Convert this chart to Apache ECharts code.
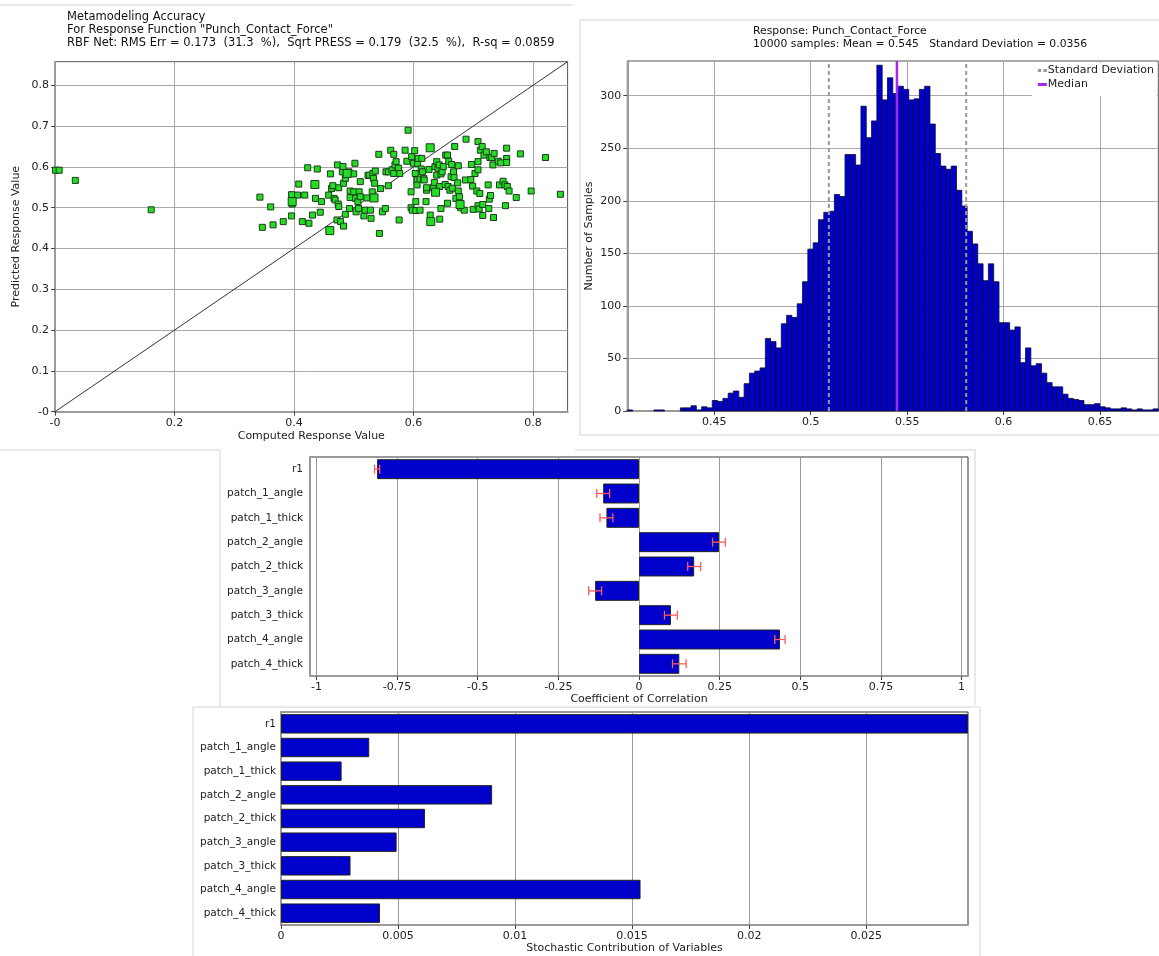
<!DOCTYPE html>
<html><head><meta charset="utf-8">
<script src="https://cdn.jsdelivr.net/npm/echarts@6/dist/echarts.min.js"></script>
<style>html,body{margin:0;padding:0;background:#fff}#c{width:1159px;height:956px}</style>
</head><body><div id="c"></div>
<script>
// ---------------- DATA ----------------
const scatterTitle = 'Metamodeling Accuracy\nFor Response Function "Punch_Contact_Force"\nRBF Net: RMS Err = 0.173  (31.3  %),  Sqrt PRESS = 0.179  (32.5  %),  R-sq = 0.0859';
const scatterPoints = [
[0.001,0.592],[0.007,0.592],[0.034,0.567],[0.161,0.495],[0.343,0.526],[0.347,0.452],[0.361,0.502],[0.365,0.458],[0.382,0.466],[0.396,0.532],[0.397,0.509],[0.396,0.480],[0.406,0.531],[0.408,0.558],
[0.418,0.531],[0.414,0.466],[0.423,0.598],[0.425,0.462],[0.431,0.482],[0.436,0.523],[0.439,0.595],[0.444,0.489],[0.446,0.515],
[0.461,0.583],[0.458,0.531],[0.463,0.547],[0.465,0.554],[0.467,0.523],[0.469,0.519],[0.472,0.470],[0.473,0.605],[0.475,0.549],[0.474,0.509],[0.475,0.503],[0.478,0.466],[0.481,0.588],[0.482,0.601],[0.483,0.455],[0.483,0.560],[0.486,0.572],[0.486,0.484],[0.492,0.588],[0.493,0.498],[0.494,0.541],[0.494,0.525],[0.500,0.583],[0.500,0.539],[0.502,0.609],[0.503,0.523],[0.504,0.490],[0.507,0.515],[0.508,0.498],[0.509,0.539],[0.511,0.564],[0.511,0.527],[0.517,0.480],[0.519,0.494],[0.522,0.524],[0.524,0.579],[0.526,0.580],[0.528,0.494],[0.529,0.474],[0.531,0.539],[0.532,0.584],[0.533,0.572],[0.535,0.560],[0.536,0.590],
[0.542,0.631],[0.543,0.437],[0.545,0.547],[0.548,0.490],[0.553,0.498],[0.554,0.588],[0.558,0.554],[0.558,0.588],[0.562,0.641],[0.564,0.593],[0.567,0.631],[0.567,0.584],[0.569,0.605],[0.571,0.613],[0.575,0.597],[0.576,0.470],[0.577,0.584],[0.586,0.641],[0.589,0.614],[0.591,0.690],[0.596,0.539],[0.596,0.500],[0.597,0.625],[0.598,0.494],[0.600,0.609],[0.602,0.640],[0.603,0.584],[0.604,0.493],[0.604,0.515],[0.606,0.568],[0.606,0.556],[0.607,0.609],[0.608,0.621],[0.611,0.494],[0.611,0.570],[0.613,0.595],[0.614,0.621],[0.615,0.588],[0.617,0.572],[0.618,0.568],[0.621,0.515],[0.622,0.543],[0.622,0.549],[0.626,0.594],[0.628,0.482],[0.633,0.549],[0.635,0.562],[0.636,0.601],[0.639,0.613],[0.639,0.580],[0.641,0.597],[0.643,0.605],[0.644,0.552],[0.644,0.472],[0.646,0.583],[0.646,0.498],[0.648,0.588],[0.650,0.601],[0.653,0.557],[0.654,0.629],[0.657,0.511],[0.657,0.629],[0.658,0.552],[0.659,0.614],[0.661,0.543],[0.663,0.576],[0.664,0.606],[0.665,0.548],[0.667,0.588],[0.668,0.574],[0.669,0.650],[0.671,0.523],[0.674,0.561],[0.675,0.541],[0.675,0.603],[0.677,0.527],[0.679,0.500],[0.685,0.494],[0.687,0.568],[0.688,0.668],[0.696,0.569],[0.697,0.606],[0.699,0.553],[0.700,0.496],[0.703,0.584],[0.706,0.541],[0.708,0.662],[0.708,0.593],[0.708,0.505],[0.708,0.613],[0.710,0.497],[0.711,0.535],[0.712,0.641],[0.715,0.650],[0.716,0.481],[0.716,0.508],[0.718,0.629],[0.722,0.637],[0.725,0.556],[0.726,0.498],[0.727,0.521],[0.728,0.623],[0.729,0.530],[0.731,0.623],[0.733,0.605],[0.734,0.476],[0.735,0.633],[0.742,0.614],[0.744,0.556],[0.746,0.610],[0.750,0.565],[0.753,0.556],[0.754,0.505],[0.756,0.646],[0.756,0.621],[0.756,0.611],[0.757,0.552],[0.760,0.541],[0.772,0.525],[0.779,0.632],[0.797,0.541],[0.821,0.623],[0.846,0.533]
];
const scatterBigPoints = [[0.397,0.515],[0.435,0.557],[0.460,0.444],[0.489,0.584],[0.534,0.524],[0.628,0.647],[0.629,0.466],[0.637,0.538],[0.678,0.508]];
const scatterRange = [0, 0.858];
const diagonalLine = [[0, 0], [0.858, 0.858]];
const scatterXTicks = [0, 0.2, 0.4, 0.6, 0.8];
const scatterYTicks = [0, 0.1, 0.2, 0.3, 0.4, 0.5, 0.6, 0.7, 0.8];

const histTitle = 'Response: Punch_Contact_Force\n10000 samples: Mean = 0.545   Standard Deviation = 0.0356';
const histStart = 0.4049;
const histBinWidth = 0.002753;
const histCounts = [
1,0,0,0,0,1,1,0,0,0,
3,3,5,1,4,3,10,9,12,17,
19,13,26,36,38,41,69,66,60,83,
91,89,102,123,154,160,182,189,190,206,
204,244,244,234,290,260,276,329,296,317,
302,309,306,296,297,306,309,273,245,233,
230,233,210,195,171,159,140,124,140,123,
84,84,77,80,46,60,43,45,36,27,
23,23,16,12,11,10,6,6,7,4,
3,2,2,3,2,1,2,1,1,2
];
const histYMax = 333;
const histSD = [0.5094, 0.5806];
const histMedian = 0.5447;
const histXTicks = [0.45, 0.5, 0.55, 0.6, 0.65];
const histYTicks = [0, 50, 100, 150, 200, 250, 300];

const variables = ['r1','patch_1_angle','patch_1_thick','patch_2_angle','patch_2_thick','patch_3_angle','patch_3_thick','patch_4_angle','patch_4_thick'];
const corrValues = [-0.812, -0.111, -0.101, 0.248, 0.171, -0.136, 0.099, 0.437, 0.125];
const corrErr =    [0.008, 0.020, 0.020, 0.020, 0.020, 0.020, 0.020, 0.016, 0.021];
const corrRange = [-1.02, 1.02];
const corrTicks = [-1, -0.75, -0.5, -0.25, 0, 0.25, 0.5, 0.75, 1];

const stochValues = [0.02935, 0.00377, 0.00259, 0.00902, 0.00615, 0.00494, 0.00297, 0.01536, 0.00423];
const stochTicks = [0, 0.005, 0.01, 0.015, 0.02, 0.025];

// ---------------- CHART ----------------
const FONT = 'DejaVu Sans';
const TXT = '#222';
const chart = echarts.init(document.getElementById('c'), null, {renderer: 'canvas'});

function valAxis(o) {
  return Object.assign({
    type: 'value',
    axisLine: {show: true, onZero: false, lineStyle: {color: '#9a9a9a', width: 2}},
    axisTick: {show: true, length: 4, lineStyle: {color: '#444'}, customValues: o.ticks},
    axisLabel: {customValues: o.ticks, fontFamily: FONT, fontSize: 11, color: TXT, margin: 6},
    splitLine: {show: true, lineStyle: {color: '#a8a8a8', width: 1}},
    nameTextStyle: {fontFamily: FONT, fontSize: 11, color: TXT},
    nameLocation: 'middle'
  }, o.extra);
}
function fmtNeg0(v) { return v === 0 ? '-0' : String(v); }

const histData = histCounts.map((c, i) => [histStart + i * histBinWidth, histStart + (i + 1) * histBinWidth, c]);
const histXMax = histStart + histCounts.length * histBinWidth;
const corrErrData = corrValues.map((v, i) => [i, v - corrErr[i], v + corrErr[i]]);

const panelLine = {stroke: '#d4d4d4', lineWidth: 1};
function gl(x1, y1, x2, y2) { return {type: 'line', shape: {x1, y1, x2, y2}, style: panelLine, silent: true, z: -10}; }

const option = {
  animation: false,
  backgroundColor: '#fff',
  textStyle: {fontFamily: FONT},
  title: [
    {text: scatterTitle, left: 67, top: 11, padding: 0, textStyle: {fontFamily: FONT, fontSize: 11.5, fontWeight: 'normal', color: '#111', lineHeight: 13}},
    {text: histTitle, left: 753, top: 25, padding: 0, textStyle: {fontFamily: FONT, fontSize: 10.8, fontWeight: 'normal', color: '#111', lineHeight: 13}}
  ],
  legend: {
    data: [
      {name: 'Standard Deviation', icon: 'path://M0,0h3v2h-3zM5,0h3v2h-3z'},
      {name: 'Median', icon: 'path://M0,0h9v2h-9z'}
    ],
    orient: 'vertical', right: 2, top: 63, itemWidth: 9, itemHeight: 3, itemGap: 3,
    symbolKeepAspect: false,
    backgroundColor: '#fff', padding: [2, 3, 6, 6],
    textStyle: {fontFamily: FONT, fontSize: 11, color: TXT, padding: [0, 0, 0, -4]}
  },
  graphic: [
    gl(0, 5, 573, 5),
    gl(580, 20, 1159, 20), gl(580, 20, 580, 435), gl(580, 435, 1159, 435),
    gl(0, 450, 220, 450), gl(575, 450, 975, 450), gl(220, 450, 220, 707), gl(975, 450, 975, 705),
    gl(193, 707, 980, 707), gl(193, 707, 193, 956), gl(980, 707, 980, 956)
  ],
  grid: [
    {left: 55, top: 61.7, width: 512.6, height: 350, show: true, borderColor: '#555', borderWidth: 1, containLabel: false},
    {left: 627.3, top: 61, width: 531, height: 350, show: true, borderColor: '#555', borderWidth: 1},
    {left: 310, top: 457, width: 658, height: 219, show: true, borderColor: '#333', borderWidth: 1},
    {left: 281, top: 712, width: 687, height: 213, show: true, borderColor: '#333', borderWidth: 1}
  ],
  xAxis: [
    valAxis({ticks: scatterXTicks, extra: {gridIndex: 0, min: scatterRange[0], max: scatterRange[1], name: 'Computed Response Value', nameGap: 19}}),
    valAxis({ticks: histXTicks, extra: {gridIndex: 1, min: histStart, max: histXMax}}),
    valAxis({ticks: corrTicks, extra: {gridIndex: 2, min: corrRange[0], max: corrRange[1], name: 'Coefficient of Correlation', nameGap: 15}}),
    valAxis({ticks: stochTicks, extra: {gridIndex: 3, min: 0, max: 'dataMax', name: 'Stochastic Contribution of Variables', nameGap: 17}})
  ],
  yAxis: [
    valAxis({ticks: scatterYTicks, extra: {gridIndex: 0, min: scatterRange[0], max: scatterRange[1], name: 'Predicted Response Value', nameGap: 33}}),
    valAxis({ticks: histYTicks, extra: {gridIndex: 1, min: 0, max: histYMax, name: 'Number of Samples', nameGap: 33}}),
    {gridIndex: 2, type: 'category', data: variables, inverse: true,
     axisLine: {onZero: false, lineStyle: {color: '#9a9a9a', width: 2}}, axisTick: {show: false},
     axisLabel: {fontFamily: FONT, fontSize: 10.5, color: TXT, margin: 7}, splitLine: {show: false}},
    {gridIndex: 3, type: 'category', data: variables, inverse: true,
     axisLine: {onZero: false, lineStyle: {color: '#9a9a9a', width: 2}}, axisTick: {show: false},
     axisLabel: {fontFamily: FONT, fontSize: 10.5, color: TXT, margin: 5}, splitLine: {show: false}}
  ],
  series: [
    {type: 'line', xAxisIndex: 0, yAxisIndex: 0, data: diagonalLine, symbol: 'none', silent: true,
     lineStyle: {color: '#333', width: 1}, z: 2},
    {type: 'scatter', xAxisIndex: 0, yAxisIndex: 0, data: scatterPoints, symbol: 'rect', symbolSize: 6,
     itemStyle: {color: '#22dd22', borderColor: '#1c3a1c', borderWidth: 1, opacity: 1}, z: 3},
    {type: 'scatter', xAxisIndex: 0, yAxisIndex: 0, data: scatterBigPoints, symbol: 'rect', symbolSize: 8,
     itemStyle: {color: '#22dd22', borderColor: '#1c3a1c', borderWidth: 1, opacity: 1}, z: 3},

    {type: 'custom', xAxisIndex: 1, yAxisIndex: 1, data: histData, encode: {x: [0, 1], y: 2}, z: 2,
     renderItem: function (params, api) {
       const c = api.value(2);
       if (!c) return null;
       const p0 = api.coord([api.value(0), c]);
       const p1 = api.coord([api.value(1), 0]);
       return {type: 'rect', shape: {x: p0[0], y: p0[1], width: p1[0] - p0[0], height: p1[1] - p0[1]},
               style: {fill: '#0000cd', stroke: '#0a0a30', lineWidth: 0.8}};
     }},
    {type: 'line', name: 'Standard Deviation', xAxisIndex: 1, yAxisIndex: 1, data: [[histSD[0], 0], [histSD[0], histYMax]],
     symbol: 'none', lineStyle: {color: '#999', width: 2, type: [4, 3]}, itemStyle: {color: '#999'}, z: 4},
    {type: 'line', name: 'Standard Deviation', xAxisIndex: 1, yAxisIndex: 1, data: [[histSD[1], 0], [histSD[1], histYMax]],
     symbol: 'none', lineStyle: {color: '#999', width: 2, type: [4, 3]}, itemStyle: {color: '#999'}, z: 4},
    {type: 'line', name: 'Median', xAxisIndex: 1, yAxisIndex: 1, data: [[histMedian, 0], [histMedian, histYMax]],
     symbol: 'none', lineStyle: {color: '#a028f0', width: 2.5}, itemStyle: {color: '#a028f0'}, z: 4},

    {type: 'bar', xAxisIndex: 2, yAxisIndex: 2, data: corrValues, barWidth: '82%',
     itemStyle: {color: '#0000cd', borderColor: '#222', borderWidth: 1}, z: 2},
    {type: 'custom', xAxisIndex: 2, yAxisIndex: 2, data: corrErrData, encode: {y: 0, x: [1, 2]}, z: 5,
     renderItem: function (params, api) {
       const cat = api.value(0);
       const a = api.coord([api.value(1), cat]);
       const b = api.coord([api.value(2), cat]);
       const h = 4.5;
       const st = {stroke: '#ff5a5a', lineWidth: 1.3};
       return {type: 'group', children: [
         {type: 'line', shape: {x1: a[0], y1: a[1], x2: b[0], y2: b[1]}, style: st},
         {type: 'line', shape: {x1: a[0], y1: a[1] - h, x2: a[0], y2: a[1] + h}, style: st},
         {type: 'line', shape: {x1: b[0], y1: b[1] - h, x2: b[0], y2: b[1] + h}, style: st}
       ]};
     }},

    {type: 'bar', xAxisIndex: 3, yAxisIndex: 3, data: stochValues, barWidth: '82%',
     itemStyle: {color: '#0000cd', borderColor: '#222', borderWidth: 1}, z: 2}
  ]
};
option.xAxis[0].axisLabel.formatter = fmtNeg0;
option.yAxis[0].axisLabel.formatter = fmtNeg0;
option.xAxis[2].splitLine.lineStyle.color = '#999';
option.xAxis[3].splitLine.lineStyle.color = '#999';
chart.setOption(option);
</script>
</body></html>
